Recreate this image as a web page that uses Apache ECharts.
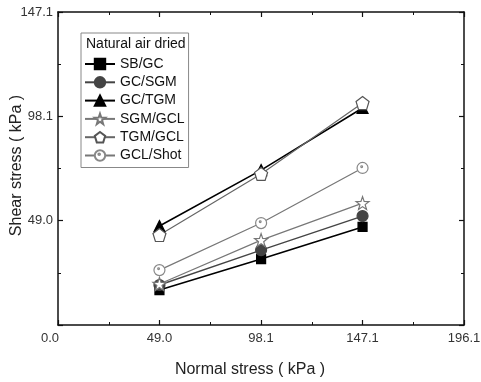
<!DOCTYPE html>
<html>
<head>
<meta charset="utf-8">
<script src="https://cdn.jsdelivr.net/npm/echarts@6/dist/echarts.min.js"></script>
<style>
html,body{margin:0;padding:0;background:#fff;}
#main{width:481px;height:382px;}
</style>
</head>
<body>
<div id="main"></div>
<script>
// normal stress (kPa)
var normalStress = [49.0, 98.1, 147.1];
var xTicks = ['0.0', '49.0', '98.1', '147.1', '196.1'];
var yTicks = ['0.0', '49.0', '98.1', '147.1'];

var sbGc   = [16.4, 31.0, 46.1];
var gcSgm  = [18.8, 35.2, 51.2];
var gcTgm  = [46.5, 72.8, 102.0];
var sgmGcl = [19.3, 39.9, 57.3];
var tgmGcl = [42.3, 71.0, 104.3];
var gclShot = [25.8, 47.9, 73.8];

var FONT = '"Liberation Sans", Arial, sans-serif';
var xInt = 196.1 / 4, yInt = 147.1 / 3;

var starPath = 'path://M50,0L61.76,33.82L97.55,34.55L69.02,56.18L79.39,90.45L50,70L20.61,90.45L30.98,56.18L2.45,34.55L38.24,33.82Z';
var pentaPath = 'path://M50,0L97.55,34.55L79.39,90.45L20.61,90.45L2.45,34.55Z';
var dotCircle = 'path://M100,50A50,50,0,1,1,0,50A50,50,0,1,1,100,50Z M50,38A8,8,0,1,1,34,38A8,8,0,1,1,50,38Z';

function pts(vals){
	var out = [];
	for(var i=0;i<vals.length;i++){ out.push([normalStress[i], vals[i]]); }
	return out;
}

function mkSeries(name, vals, symbol, size, lineColor, lineW, fill, border){
	return {
		name: name,
		type: 'line',
		data: pts(vals),
		symbol: symbol,
		symbolSize: size,
		showAllSymbol: true,
		lineStyle: {color: lineColor, width: lineW},
		itemStyle: {color: fill, borderColor: border, borderWidth: 1.2},
		emphasis: {disabled: true},
		animation: false
	};
}

function axisBase(isX, pos, showLabel){
	var ticks = isX ? xTicks : yTicks;
	var step = isX ? xInt : yInt;
	return {
		type: 'value',
		position: pos,
		min: 0,
		max: isX ? 196.1 : 147.1,
		interval: step,
		axisLine: {show: true, onZero: false, lineStyle: {color: '#111', width: 1.5}},
		axisTick: {show: true, inside: true, length: 5, lineStyle: {color: '#111', width: 1.2}},
		minorTick: {show: true, splitNumber: 2, length: 3, lineStyle: {color: '#111', width: 1}},
		splitLine: {show: false},
		axisLabel: {
			show: showLabel,
			showMinLabel: isX,
			fontFamily: FONT,
			fontSize: 13,
			color: '#333',
			margin: isX ? 7 : 5,
			formatter: function(v){
				var idx = Math.round(v / step);
				if(isX && idx === 0){ return '{l|' + ticks[0] + '}'; }
				return ticks[idx];
			},
			rich: {l: {fontFamily: FONT, fontSize: 13, color: '#333', padding: [0, 16, 0, 0]}}
		}
	};
}

var chart = echarts.init(document.getElementById('main'));

var xBottom = axisBase(true, 'bottom', true);
xBottom.name = 'Normal stress ( kPa )';
xBottom.nameLocation = 'middle';
xBottom.nameGap = 37;
xBottom.nameMoveOverlap = false;
xBottom.nameTextStyle = {fontFamily: FONT, fontSize: 16, color: '#222', padding: [0, 22, 0, 0]};

var yLeft = axisBase(false, 'left', true);
yLeft.name = 'Shear stress ( kPa )';
yLeft.nameLocation = 'middle';
yLeft.nameGap = 33;
yLeft.nameMoveOverlap = false;
yLeft.nameTextStyle = {fontFamily: FONT, fontSize: 16, color: '#222', padding: [0, 0, 0, 6]};

var option = {
	backgroundColor: '#fff',
	animation: false,
	grid: {left: 58, right: 17, top: 12, bottom: 57, containLabel: false, outerBoundsMode: 'none'},
	xAxis: [xBottom, axisBase(true, 'top', false)],
	yAxis: [yLeft, axisBase(false, 'right', false)],
	legend: {
		orient: 'vertical',
		left: 81,
		top: 33,
		borderColor: '#888',
		borderWidth: 1,
		padding: [24, 4, 5, 3],
		itemWidth: 30,
		itemHeight: 13,
		itemGap: 4.3,
		textStyle: {fontFamily: FONT, fontSize: 14, color: '#111', lineHeight: 14}
	},
	graphic: [{
		type: 'text',
		left: 86,
		top: 37,
		style: {text: 'Natural air dried', font: '14px ' + FONT, fill: '#111'}
	}],
	series: [
		mkSeries('SB/GC', sbGc, 'rect', 9, '#000', 1.6, '#000', '#000'),
		mkSeries('GC/SGM', gcSgm, 'circle', 11, '#444', 1.4, '#444', '#444'),
		mkSeries('GC/TGM', gcTgm, 'triangle', 11, '#000', 1.6, '#000', '#000'),
		mkSeries('SGM/GCL', sgmGcl, starPath, 13, '#777', 1.2, '#fff', '#777'),
		mkSeries('TGM/GCL', tgmGcl, pentaPath, 13, '#666', 1.2, '#fff', '#555'),
		mkSeries('GCL/Shot', gclShot, dotCircle, 11, '#777', 1.2, '#fff', '#888')
	]
};
chart.setOption(option);
</script>
</body>
</html>
